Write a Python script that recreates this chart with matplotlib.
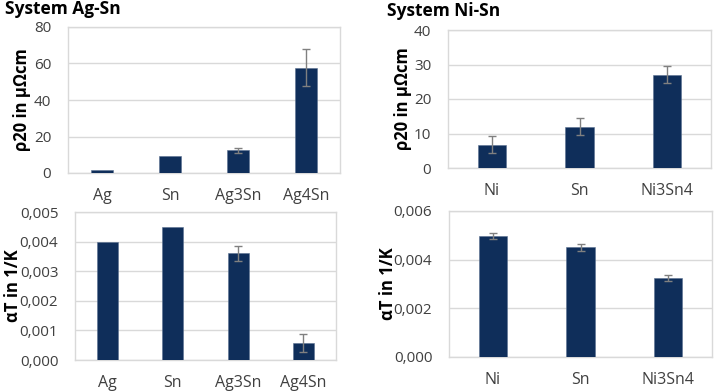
import matplotlib
matplotlib.use("Agg")
import matplotlib.pyplot as plt

plt.rcParams['font.family'] = ['Open Sans', 'DejaVu Sans']

# ---- data ----
ag_categories = ["Ag", "Sn", "Ag3Sn", "Ag4Sn"]
ag_rho = [1.6, 9.3, 12.4, 57.8]
ag_rho_err = [0, 0, 1.3, 10.0]
ag_alpha = [0.00398, 0.00448, 0.00360, 0.00057]
ag_alpha_err = [0, 0, 0.00025, 0.0003]

ni_categories = ["Ni", "Sn", "Ni3Sn4"]
ni_rho = [6.8, 12.0, 27.1]
ni_rho_err = [2.5, 2.4, 2.6]
ni_alpha = [0.00498, 0.00451, 0.00326]
ni_alpha_err = [0.00012, 0.00015, 0.00013]

ag_rho_ticks = [0, 20, 40, 60, 80]
ni_rho_ticks = [0, 10, 20, 30, 40]
ag_alpha_ticks = [0.0, 0.001, 0.002, 0.003, 0.004, 0.005]
ag_alpha_ticklabels = ["0,000", "0,001", "0,002", "0,003", "0,004", "0,005"]
ni_alpha_ticks = [0.0, 0.002, 0.004, 0.006]
ni_alpha_ticklabels = ["0,000", "0,002", "0,004", "0,006"]

rho_label = "ρ20 in µΩcm"
alpha_label = "αT in 1/K"

BAR = "#0f2e5a"
ERR = "#808080"
GRID = "#d9d9d9"
TXT = "#404040"

W, H = 715, 392
fig = plt.figure(figsize=(W / 100, H / 100), dpi=100)


def add_ax(x0, y0, x1, y1):
    return fig.add_axes([x0 / W, 1 - y1 / H, (x1 - x0) / W, (y1 - y0) / H])


def draw(ax, cats, vals, errs, ticks, ticklabels, label, labelx):
    x = list(range(len(cats)))
    ax.bar(x, vals, width=0.32, color=BAR, edgecolor="#5a7090", linewidth=0.4, zorder=3)
    ex = [i for i, e in zip(x, errs) if e > 0]
    ev = [v for v, e in zip(vals, errs) if e > 0]
    ee = [e for e in errs if e > 0]
    if ex:
        ax.errorbar(ex, ev, yerr=ee, fmt="none", ecolor=ERR, elinewidth=1.0,
                    capsize=3, capthick=1.0, zorder=4)
    ax.set_xlim(-0.5, len(cats) - 0.5)
    ax.set_ylim(ticks[0], ticks[-1])
    ax.set_yticks(ticks)
    ax.set_yticklabels(ticklabels)
    ax.set_xticks(x)
    ax.set_xticklabels(cats)
    ax.yaxis.grid(True, color=GRID, linewidth=1.0, zorder=0)
    ax.set_axisbelow(True)
    for s in ax.spines.values():
        s.set_color(GRID)
        s.set_linewidth(1.0)
    ax.tick_params(axis="y", length=0, labelsize=11, colors=TXT, pad=12)
    ax.tick_params(axis="x", length=0, labelsize=11.5, colors=TXT, pad=11)
    ax.set_ylabel(label, fontsize=12, fontweight="bold", color="black", va="center")
    ax.yaxis.set_label_coords(labelx, 0.5)


ax1 = add_ax(68, 27, 340, 173)
draw(ax1, ag_categories, ag_rho, ag_rho_err, ag_rho_ticks,
     [str(t) for t in ag_rho_ticks], rho_label, (22 - 68) / 272)

ax2 = add_ax(448, 30, 711, 168)
draw(ax2, ni_categories, ni_rho, ni_rho_err, ni_rho_ticks,
     [str(t) for t in ni_rho_ticks], rho_label, (403 - 448) / 263)

ax3 = add_ax(75, 212, 336, 360)
draw(ax3, ag_categories, ag_alpha, ag_alpha_err, ag_alpha_ticks,
     ag_alpha_ticklabels, alpha_label, (13 - 75) / 261)

ax4 = add_ax(449, 211, 712, 357)
draw(ax4, ni_categories, ni_alpha, ni_alpha_err, ni_alpha_ticks,
     ni_alpha_ticklabels, alpha_label, (388 - 449) / 263)

fig.text(5 / W, 1 - 9 / H, "System Ag-Sn", fontsize=12.5, fontweight="bold",
         ha="left", va="center", color="black")
fig.text(387 / W, 1 - 11 / H, "System Ni-Sn", fontsize=12.5, fontweight="bold",
         ha="left", va="center", color="black")

fig.savefig("out.png", dpi=100)
